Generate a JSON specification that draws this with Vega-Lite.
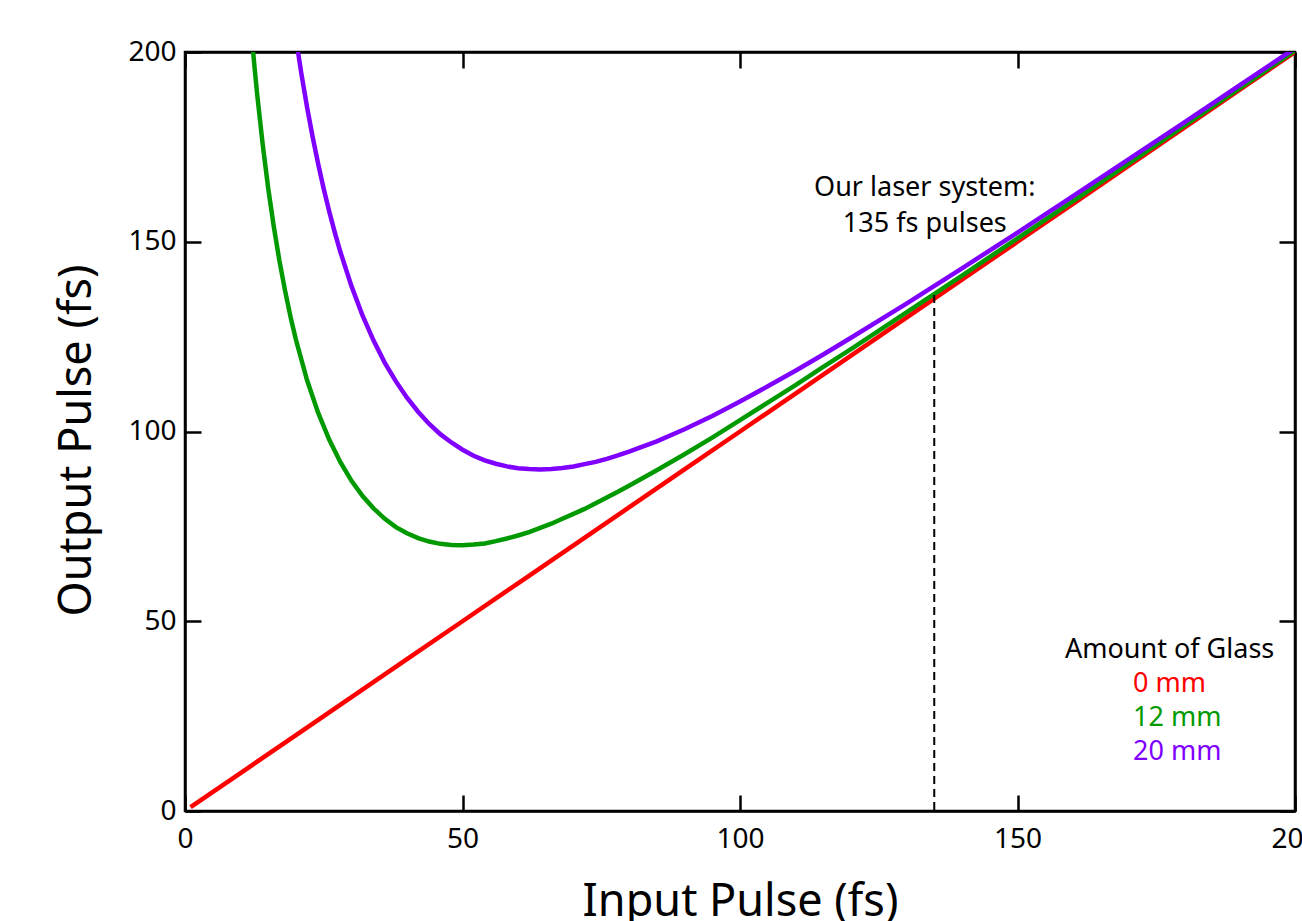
{
  "$schema": "https://vega.github.io/schema/vega-lite/v6.json",
  "width": 1110,
  "height": 759,
  "autosize": {"type": "none"},
  "padding": {"left": 185, "top": 52, "right": 7, "bottom": 110},
  "background": "white",
  "config": {
    "font": "Noto Sans",
    "view": {"stroke": "black", "strokeWidth": 2.5},
    "axis": {
      "domainColor": "black", "domainWidth": 2.5,
      "tickColor": "black", "tickWidth": 2.5, "tickSize": -16,
      "labelColor": "black", "labelFontSize": 28, "labelFont": "Noto Sans", "labelFlush": false,
      "titleColor": "black", "titleFontSize": 45, "titleFont": "Noto Sans", "titleFontWeight": "normal",
      "grid": false
    }
  },
  "datasets": {
    "curves": [
      {"input": 1, "output": 1, "glass": "0 mm"},
      {"input": 10, "output": 10, "glass": "0 mm"},
      {"input": 20, "output": 20, "glass": "0 mm"},
      {"input": 30, "output": 30, "glass": "0 mm"},
      {"input": 40, "output": 40, "glass": "0 mm"},
      {"input": 50, "output": 50, "glass": "0 mm"},
      {"input": 60, "output": 60, "glass": "0 mm"},
      {"input": 70, "output": 70, "glass": "0 mm"},
      {"input": 80, "output": 80, "glass": "0 mm"},
      {"input": 90, "output": 90, "glass": "0 mm"},
      {"input": 100, "output": 100, "glass": "0 mm"},
      {"input": 110, "output": 110, "glass": "0 mm"},
      {"input": 120, "output": 120, "glass": "0 mm"},
      {"input": 130, "output": 130, "glass": "0 mm"},
      {"input": 140, "output": 140, "glass": "0 mm"},
      {"input": 150, "output": 150, "glass": "0 mm"},
      {"input": 160, "output": 160, "glass": "0 mm"},
      {"input": 170, "output": 170, "glass": "0 mm"},
      {"input": 180, "output": 180, "glass": "0 mm"},
      {"input": 190, "output": 190, "glass": "0 mm"},
      {"input": 200, "output": 200, "glass": "0 mm"},

      {"input": 12, "output": 204.5, "glass": "12 mm"},
      {"input": 12.5, "output": 196.4, "glass": "12 mm"},
      {"input": 13, "output": 188.9, "glass": "12 mm"},
      {"input": 14, "output": 175.6, "glass": "12 mm"},
      {"input": 15, "output": 164.0, "glass": "12 mm"},
      {"input": 16, "output": 154.0, "glass": "12 mm"},
      {"input": 17, "output": 145.1, "glass": "12 mm"},
      {"input": 18, "output": 137.3, "glass": "12 mm"},
      {"input": 19, "output": 130.3, "glass": "12 mm"},
      {"input": 20, "output": 124.1, "glass": "12 mm"},
      {"input": 22, "output": 113.5, "glass": "12 mm"},
      {"input": 24, "output": 104.9, "glass": "12 mm"},
      {"input": 26, "output": 97.8, "glass": "12 mm"},
      {"input": 28, "output": 91.9, "glass": "12 mm"},
      {"input": 30, "output": 87.0, "glass": "12 mm"},
      {"input": 32, "output": 83.0, "glass": "12 mm"},
      {"input": 34, "output": 79.7, "glass": "12 mm"},
      {"input": 36, "output": 77.0, "glass": "12 mm"},
      {"input": 38, "output": 74.8, "glass": "12 mm"},
      {"input": 40, "output": 73.2, "glass": "12 mm"},
      {"input": 42, "output": 71.9, "glass": "12 mm"},
      {"input": 44, "output": 71.0, "glass": "12 mm"},
      {"input": 46, "output": 70.4, "glass": "12 mm"},
      {"input": 48, "output": 70.1, "glass": "12 mm"},
      {"input": 50, "output": 70.0, "glass": "12 mm"},
      {"input": 52, "output": 70.2, "glass": "12 mm"},
      {"input": 54, "output": 70.5, "glass": "12 mm"},
      {"input": 56, "output": 71.1, "glass": "12 mm"},
      {"input": 58, "output": 71.8, "glass": "12 mm"},
      {"input": 60, "output": 72.6, "glass": "12 mm"},
      {"input": 62, "output": 73.5, "glass": "12 mm"},
      {"input": 64, "output": 74.6, "glass": "12 mm"},
      {"input": 66, "output": 75.7, "glass": "12 mm"},
      {"input": 68, "output": 77.0, "glass": "12 mm"},
      {"input": 70, "output": 78.3, "glass": "12 mm"},
      {"input": 72, "output": 79.6, "glass": "12 mm"},
      {"input": 74, "output": 81.1, "glass": "12 mm"},
      {"input": 76, "output": 82.6, "glass": "12 mm"},
      {"input": 78, "output": 84.1, "glass": "12 mm"},
      {"input": 80, "output": 85.7, "glass": "12 mm"},
      {"input": 85, "output": 89.8, "glass": "12 mm"},
      {"input": 90, "output": 94.0, "glass": "12 mm"},
      {"input": 95, "output": 98.4, "glass": "12 mm"},
      {"input": 100, "output": 103.0, "glass": "12 mm"},
      {"input": 105, "output": 107.6, "glass": "12 mm"},
      {"input": 110, "output": 112.2, "glass": "12 mm"},
      {"input": 115, "output": 117.0, "glass": "12 mm"},
      {"input": 120, "output": 121.7, "glass": "12 mm"},
      {"input": 130, "output": 131.4, "glass": "12 mm"},
      {"input": 140, "output": 141.1, "glass": "12 mm"},
      {"input": 150, "output": 150.9, "glass": "12 mm"},
      {"input": 160, "output": 160.7, "glass": "12 mm"},
      {"input": 170, "output": 170.6, "glass": "12 mm"},
      {"input": 180, "output": 180.5, "glass": "12 mm"},
      {"input": 190, "output": 190.4, "glass": "12 mm"},
      {"input": 200, "output": 200.4, "glass": "12 mm"},

      {"input": 20, "output": 203.5, "glass": "20 mm"},
      {"input": 21, "output": 194.0, "glass": "20 mm"},
      {"input": 22, "output": 185.4, "glass": "20 mm"},
      {"input": 23, "output": 177.6, "glass": "20 mm"},
      {"input": 24, "output": 170.5, "glass": "20 mm"},
      {"input": 25, "output": 163.9, "glass": "20 mm"},
      {"input": 26, "output": 157.9, "glass": "20 mm"},
      {"input": 27, "output": 152.4, "glass": "20 mm"},
      {"input": 28, "output": 147.3, "glass": "20 mm"},
      {"input": 30, "output": 138.3, "glass": "20 mm"},
      {"input": 32, "output": 130.5, "glass": "20 mm"},
      {"input": 34, "output": 123.9, "glass": "20 mm"},
      {"input": 36, "output": 118.1, "glass": "20 mm"},
      {"input": 38, "output": 113.2, "glass": "20 mm"},
      {"input": 40, "output": 108.9, "glass": "20 mm"},
      {"input": 42, "output": 105.2, "glass": "20 mm"},
      {"input": 44, "output": 102.0, "glass": "20 mm"},
      {"input": 46, "output": 99.3, "glass": "20 mm"},
      {"input": 48, "output": 97.1, "glass": "20 mm"},
      {"input": 50, "output": 95.2, "glass": "20 mm"},
      {"input": 52, "output": 93.6, "glass": "20 mm"},
      {"input": 54, "output": 92.4, "glass": "20 mm"},
      {"input": 56, "output": 91.5, "glass": "20 mm"},
      {"input": 58, "output": 90.8, "glass": "20 mm"},
      {"input": 60, "output": 90.3, "glass": "20 mm"},
      {"input": 62, "output": 90.1, "glass": "20 mm"},
      {"input": 64, "output": 90.0, "glass": "20 mm"},
      {"input": 66, "output": 90.1, "glass": "20 mm"},
      {"input": 68, "output": 90.4, "glass": "20 mm"},
      {"input": 70, "output": 90.8, "glass": "20 mm"},
      {"input": 72, "output": 91.4, "glass": "20 mm"},
      {"input": 74, "output": 92.0, "glass": "20 mm"},
      {"input": 76, "output": 92.8, "glass": "20 mm"},
      {"input": 78, "output": 93.7, "glass": "20 mm"},
      {"input": 80, "output": 94.7, "glass": "20 mm"},
      {"input": 85, "output": 97.4, "glass": "20 mm"},
      {"input": 90, "output": 100.6, "glass": "20 mm"},
      {"input": 95, "output": 104.1, "glass": "20 mm"},
      {"input": 100, "output": 107.9, "glass": "20 mm"},
      {"input": 105, "output": 111.9, "glass": "20 mm"},
      {"input": 110, "output": 116.0, "glass": "20 mm"},
      {"input": 115, "output": 120.3, "glass": "20 mm"},
      {"input": 120, "output": 124.7, "glass": "20 mm"},
      {"input": 130, "output": 133.7, "glass": "20 mm"},
      {"input": 140, "output": 143.0, "glass": "20 mm"},
      {"input": 150, "output": 152.4, "glass": "20 mm"},
      {"input": 160, "output": 162.0, "glass": "20 mm"},
      {"input": 170, "output": 171.7, "glass": "20 mm"},
      {"input": 180, "output": 181.4, "glass": "20 mm"},
      {"input": 190, "output": 191.2, "glass": "20 mm"},
      {"input": 200, "output": 201.0, "glass": "20 mm"}
    ],
    "marker": [{"input": 135, "output": 136}],
    "notes": [{"input": 133.3, "output": 162.1, "note": "Our laser system:\n135 fs pulses"}]
  },
  "layer": [
    {
      "data": {"name": "curves"},
      "mark": {"type": "line", "strokeWidth": 4.5, "clip": true, "interpolate": "linear"},
      "encoding": {
        "x": {"field": "input", "type": "quantitative",
              "scale": {"domain": [0, 200], "nice": false, "zero": false},
              "axis": {"orient": "bottom", "title": "Input Pulse (fs)", "values": [0, 50, 100, 150, 200], "labelPadding": 30, "titlePadding": 26}},
        "y": {"field": "output", "type": "quantitative",
              "scale": {"domain": [0, 200], "nice": false, "zero": false},
              "axis": {"orient": "left", "title": "Output Pulse (fs)", "values": [0, 50, 100, 150, 200], "labelPadding": 25, "titlePadding": 28, "titleY": 388}},
        "color": {"field": "glass", "type": "nominal",
                  "scale": {"domain": ["0 mm", "12 mm", "20 mm"], "range": ["#ff0000", "#009a00", "#7f00ff"]},
                  "legend": {
                    "orient": "none", "legendX": 880, "legendY": 585,
                    "title": "Amount of Glass", "titleAlign": "left", "titleAnchor": "start", "titleLimit": 400,
                    "titleFontSize": 27, "titleFontWeight": "normal", "titleColor": "black", "titleFont": "Noto Sans",
                    "labelFontSize": 27, "labelFont": "Noto Sans", "labelAlign": "left", "labelOffset": 41,
                    "symbolSize": 0, "symbolOpacity": 0, "symbolStrokeWidth": 0,
                    "rowPadding": 6, "titlePadding": 6, "padding": 0,
                    "encode": {"labels": {"update": {"fill": {"scale": "color", "field": "value"}}}}
                  }}
      }
    },
    {
      "data": {"name": "marker"},
      "mark": {"type": "rule", "strokeDash": [8, 5], "strokeWidth": 2, "color": "black"},
      "encoding": {
        "x": {"field": "input", "type": "quantitative",
              "axis": {"orient": "top", "title": null, "labels": false, "values": [0, 50, 100, 150, 200]}},
        "y": {"field": "output", "type": "quantitative",
              "axis": {"orient": "right", "title": null, "labels": false, "values": [0, 50, 100, 150, 200]}},
        "y2": {"datum": 0}
      }
    },
    {
      "data": {"name": "notes"},
      "mark": {"type": "text", "fontSize": 27, "font": "Noto Sans", "align": "center", "baseline": "alphabetic", "lineBreak": "\n", "lineHeight": 36, "color": "black"},
      "encoding": {
        "x": {"field": "input", "type": "quantitative", "axis": null},
        "y": {"field": "output", "type": "quantitative", "axis": null},
        "text": {"field": "note"}
      }
    }
  ],
  "resolve": {"axis": {"x": "independent", "y": "independent"}}
}
